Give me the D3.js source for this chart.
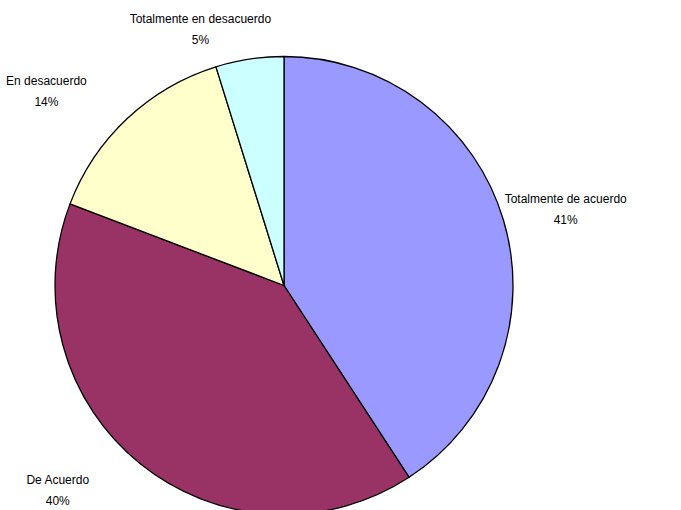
<!DOCTYPE html>
<html>
<head>
<meta charset="utf-8">
<script src="https://cdn.jsdelivr.net/npm/d3@7"></script>
<style>
  body { margin: 0; background: #fff; }
  text { font-family: "Liberation Sans", Arial, sans-serif; font-size: 12px; fill: #000; }
</style>
</head>
<body>
<div id="chart"></div>
<script>
// slice data, clockwise from 12 o'clock
var categories = ["Totalmente de acuerdo", "De Acuerdo", "En desacuerdo", "Totalmente en desacuerdo"];
var values = [40.8, 40.0, 14.4, 4.8];
var colors = ["#9999FF", "#993366", "#FFFFCC", "#CCFFFF"];

// label placement: angle nudge (degrees) and distance from centre
var labelShift = [1.3, 9, -7.5, -9.4];
var labelDist = [292, 305, 307, 270];

var width = 681, height = 510;
var cx = 284, cy = 285.5, radius = 229;

var svg = d3.select("#chart").append("svg")
    .attr("width", width)
    .attr("height", height);

var g = svg.append("g")
    .attr("transform", "translate(" + cx + "," + cy + ")");

var pie = d3.pie().sort(null).value(function (d) { return d; });
var arcs = pie(values);
var total = d3.sum(values);

var arc = d3.arc().innerRadius(0).outerRadius(radius);

g.selectAll("path")
    .data(arcs)
    .enter().append("path")
    .attr("d", arc)
    .attr("fill", function (d, i) { return colors[i]; })
    .attr("stroke", "#000")
    .attr("stroke-width", 1.3)
    .attr("stroke-linejoin", "round");

// labels: name + rounded percent
var labels = g.selectAll("g.label")
    .data(arcs)
    .enter().append("g")
    .attr("class", "label")
    .attr("transform", function (d, i) {
        var a = (d.startAngle + d.endAngle) / 2 + labelShift[i] * Math.PI / 180;
        var x = Math.sin(a) * labelDist[i];
        var y = -Math.cos(a) * labelDist[i];
        return "translate(" + x + "," + y + ")";
    });

labels.append("text")
    .attr("text-anchor", "middle")
    .attr("y", -6)
    .text(function (d, i) { return categories[i]; });

labels.append("text")
    .attr("text-anchor", "middle")
    .attr("y", 15)
    .text(function (d) { return Math.round(d.value / total * 100) + "%"; });
</script>
</body>
</html>
